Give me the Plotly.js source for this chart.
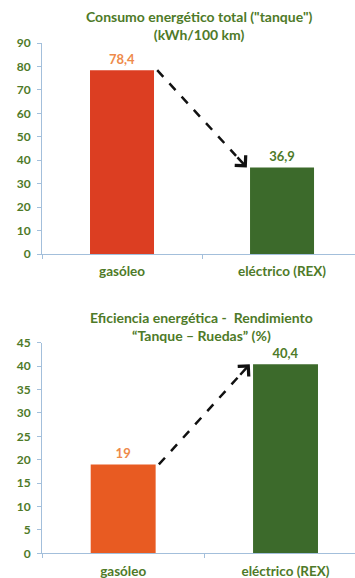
<!DOCTYPE html>
<html>
<head>
<meta charset="utf-8">
<script src="https://cdn.plot.ly/plotly-3.0.1.min.js"></script>
<style>html,body{margin:0;padding:0;background:#fff;overflow:hidden}#chart{width:355px;height:578px}</style>
</head>
<body>
<div id="chart"></div>
<script>
// Data
var categories = ["gasóleo", "eléctrico (REX)"];
var consumoValues = [78.4, 36.9];
var eficienciaValues = [19, 40.4];
var consumoTitle = "Consumo energético total (\"tanque\")<br>(kWh/100 km)";
var eficienciaTitle = "Eficiencia energética -  Rendimiento<br>“Tanque – Ruedas” (%)";

var green = "#4E7A28";
var orangeText = "#EE8A4A";
var axisColor = "#A3BFDB";
var font = "Lato, 'Open Sans', sans-serif";

function fmt(v){ return String(v).replace('.', ','); }

var traceTop = {
  type: "bar", x: categories, y: consumoValues, xaxis: "x", yaxis: "y",
  width: 0.4,
  marker: {color: ["#DC3E22", "#3C6A2B"], line: {width: 0}},
  text: consumoValues.map(fmt), textposition: "outside", cliponaxis: false,
  textfont: {family: font, size: 13, color: [orangeText, green], weight: "bold"},
  hoverinfo: "none"
};
var traceBot = {
  type: "bar", x: categories, y: eficienciaValues, xaxis: "x2", yaxis: "y2",
  width: 0.4,
  marker: {color: ["#E85B22", "#3C6A2B"], line: {width: 0}},
  text: eficienciaValues.map(fmt), textposition: "outside", cliponaxis: false,
  textfont: {family: font, size: 13, color: [orangeText, green], weight: "bold"},
  hoverinfo: "none"
};

function xAxis(range, anchor) {
  return {
    type: "category", range: range, domain: [42/355, 1], anchor: anchor,
    showline: true, linecolor: axisColor, linewidth: 1,
    ticks: "outside", tickson: "boundaries", ticklen: 4, tickcolor: axisColor,
    showgrid: false, zeroline: false,
    tickfont: {family: font, size: 13.5, color: green, weight: "bold"},
    ticklabelstandoff: 5, fixedrange: true
  };
}
function yAxis(range, dtick, domain, anchor) {
  return {
    range: range, dtick: dtick, domain: domain, anchor: anchor,
    showline: true, linecolor: axisColor, linewidth: 1,
    ticks: "outside", ticklen: 4, tickcolor: axisColor,
    showgrid: false, zeroline: false,
    tickfont: {family: font, size: 12, color: green, weight: "bold"},
    ticklabelstandoff: 4, fixedrange: true
  };
}

function arrowParts(values, xref, yref) {
  var x0 = 0.22, y0 = values[0];
  var x1 = 0.78, y1 = values[1];
  var t = 0.88;
  var xm = x0 + (x1 - x0) * t, ym = y0 + (y1 - y0) * t;
  var shape = {type: "line", xref: xref, yref: yref, x0: x0, y0: y0, x1: xm, y1: ym,
    line: {color: "#111", width: 2.5, dash: "dash"}};
  var ann = {xref: xref, yref: yref, axref: xref, ayref: yref, x: x1, y: y1, ax: xm, ay: ym,
    text: "", showarrow: true, arrowhead: 4, arrowsize: 1.15, arrowwidth: 2.5, arrowcolor: "#111"};
  return [shape, ann];
}

var aTop = arrowParts(consumoValues, "x", "y");
var aBot = arrowParts(eficienciaValues, "x2", "y2");

var layout = {
  width: 355, height: 578,
  margin: {l: 0, r: 0, t: 0, b: 0},
  paper_bgcolor: "#fff", plot_bgcolor: "#fff",
  showlegend: false, bargap: 0.6,
  font: {family: font, color: green},
  xaxis: xAxis([-0.5, 1.456], "y"),
  yaxis: yAxis([0, 90], 10, [1 - 254/578, 1 - 43/578], "x"),
  xaxis2: xAxis([-0.5, 1.428], "y2"),
  yaxis2: yAxis([0, 45], 5, [1 - 553.3/578, 1 - 342.7/578], "x2"),
  shapes: [aTop[0], aBot[0]],
  annotations: [
    aTop[1], aBot[1],
    {xref: "paper", yref: "paper", x: 199/355, y: 1 - 25.5/578, xanchor: "center", yanchor: "middle",
     text: consumoTitle, showarrow: false, align: "center",
     font: {family: font, size: 14, color: green, weight: "bold"}},
    {xref: "paper", yref: "paper", x: 201/355, y: 1 - 326/578, xanchor: "center", yanchor: "middle",
     text: eficienciaTitle, showarrow: false, align: "center",
     font: {family: font, size: 14, color: green, weight: "bold"}}
  ]
};

Plotly.newPlot("chart", [traceTop, traceBot], layout, {displayModeBar: false, staticPlot: true});
</script>
</body>
</html>
